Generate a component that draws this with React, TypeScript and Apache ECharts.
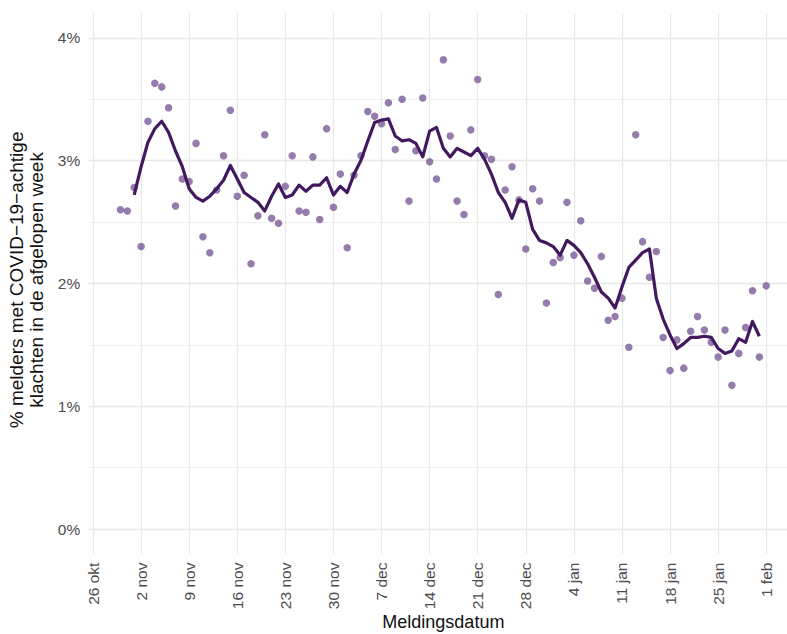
import React, { useEffect, useRef } from "react";
import * as echarts from "echarts";

// x positions are days since 26 okt 2020
const tickDays = [0, 7, 14, 21, 28, 35, 42, 49, 56, 63, 70, 77, 84, 91, 98];
const tickLabels = [
  "26 okt", "2 nov", "9 nov", "16 nov", "23 nov", "30 nov", "7 dec",
  "14 dec", "21 dec", "28 dec", "4 jan", "11 jan", "18 jan", "25 jan", "1 feb",
];
const yTicks = [0, 1, 2, 3, 4];

// daily values (%), first point on 30 okt (day 4)
const firstPointDay = 4;
const dailyValues = [
  2.60, 2.59, 2.78, 2.30, 3.32, 3.63, 3.60, 3.43, 2.63, 2.85, // 30 okt - 8 nov
  2.83, 3.14, 2.38, 2.25, 2.76, 3.04, 3.41, 2.71, 2.88, 2.16, // 9 nov - 18 nov
  2.55, 3.21, 2.53, 2.49, 2.79, 3.04, 2.59, 2.58, 3.03, 2.52, // 19 nov - 28 nov
  3.26, 2.62, 2.89, 2.29, 2.88, 3.04, 3.40, 3.36, 3.30, 3.47, // 29 nov - 8 dec
  3.09, 3.50, 2.67, 3.08, 3.51, 2.99, 2.85, 3.82, 3.20, 2.67, // 9 dec - 18 dec
  2.56, 3.25, 3.66, 3.04, 3.01, 1.91, 2.76, 2.95, 2.68, 2.28, // 19 dec - 28 dec
  2.77, 2.67, 1.84, 2.17, 2.21, 2.66, 2.23, 2.51, 2.02, 1.96, // 29 dec - 7 jan
  2.22, 1.70, 1.73, 1.88, 1.48, 3.21, 2.34, 2.05, 2.26, 1.56, // 8 jan - 17 jan
  1.29, 1.54, 1.31, 1.61, 1.73, 1.62, 1.52, 1.40, 1.62, 1.17, // 18 jan - 27 jan
  1.43, 1.64, 1.94, 1.40, 1.98,                               // 28 jan - 1 feb
];

// 7-day average (%), first value on 1 nov (day 6)
const firstAvgDay = 6;
const weeklyAverage = [
  2.72, 2.95, 3.15, 3.26, 3.32, 3.23, 3.08, 2.95, 2.77, 2.70, // 1 nov - 10 nov
  2.67, 2.71, 2.77, 2.84, 2.96, 2.85, 2.74, 2.70, 2.66, 2.59, // 11 nov - 20 nov
  2.71, 2.81, 2.70, 2.72, 2.80, 2.75, 2.80, 2.80, 2.86, 2.72, // 21 nov - 30 nov
  2.79, 2.74, 2.89, 3.00, 3.16, 3.31, 3.33, 3.34, 3.20, 3.16, // 1 dec - 10 dec
  3.17, 3.14, 3.03, 3.24, 3.27, 3.10, 3.03, 3.10, 3.07, 3.04, // 11 dec - 20 dec
  3.10, 3.01, 2.89, 2.74, 2.66, 2.53, 2.68, 2.66, 2.44, 2.35, // 21 dec - 30 dec
  2.33, 2.30, 2.23, 2.35, 2.31, 2.25, 2.16, 2.05, 1.93, 1.88, // 31 dec - 9 jan
  1.80, 1.97, 2.13, 2.19, 2.25, 2.28, 1.88, 1.71, 1.58, 1.47, // 10 jan - 19 jan
  1.51, 1.56, 1.56, 1.57, 1.56, 1.47, 1.43, 1.45, 1.55, 1.52, // 20 jan - 29 jan
  1.69, 1.57,                                                 // 30 jan - 31 jan
];

const FONT = "'Liberation Sans', Arial, Helvetica, sans-serif";

export default function App() {
  const ref = useRef<HTMLDivElement>(null);

  useEffect(() => {
    document.body.style.margin = "0";
    if (!ref.current) return;
    const chart = echarts.init(ref.current, null, { renderer: "svg" });

    const points = dailyValues.map((v, i) => [firstPointDay + i, v]);
    const avg = weeklyAverage.map((v, i) => [firstAvgDay + i, v]);

    chart.setOption({
      animation: false,
      backgroundColor: "#ffffff",
      grid: {
        left: 88.2,
        top: 13.2,
        width: 710.3,
        height: 540.4,
        containLabel: false,
        outerBoundsMode: "none",
      },
      xAxis: {
        type: "value",
        min: -0.7,
        max: 102.7,
        name: "Meldingsdatum",
        nameLocation: "middle",
        nameGap: 59,
        nameMoveOverlap: false,
        nameTextStyle: { fontFamily: FONT, fontSize: 18, color: "#111111" },
        axisLine: { show: false },
        axisTick: { show: false, customValues: tickDays },
        axisLabel: {
          customValues: tickDays,
          rotate: 90,
          margin: 9,
          fontFamily: FONT,
          fontSize: 15.5,
          color: "#4d4d4d",
          formatter: (v: number) => {
            const i = tickDays.indexOf(Math.round(v));
            return i >= 0 ? tickLabels[i] : "";
          },
        },
        splitLine: { show: true, lineStyle: { color: "#e8e8e8", width: 1.3 } },
      },
      yAxis: {
        type: "value",
        min: -0.2,
        max: 4.2,
        name: "% melders met COVID\u221219\u2212achtige\nklachten in de afgelopen week",
        nameLocation: "middle",
        nameRotate: 90,
        nameGap: 42,
        nameMoveOverlap: false,
        nameTextStyle: {
          fontFamily: FONT,
          fontSize: 19,
          color: "#111111",
          lineHeight: 20,
          padding: [0, 0, 0, 7],
        },
        axisLine: { show: false },
        axisTick: { show: false, customValues: yTicks },
        minorTick: { show: false, splitNumber: 2 },
        axisLabel: {
          customValues: yTicks,
          margin: 8,
          fontFamily: FONT,
          fontSize: 15.5,
          color: "#4d4d4d",
          formatter: (v: number) => `${v}%`,
        },
        splitLine: { show: true, lineStyle: { color: "#e8e8e8", width: 1.3 } },
        minorSplitLine: { show: true, lineStyle: { color: "#efefef", width: 1 } },
      },
      series: [
        {
          type: "scatter",
          data: points,
          symbol: "circle",
          symbolSize: 7.5,
          itemStyle: { color: "#7b5b99" },
          z: 2,
          silent: true,
        },
        {
          type: "line",
          data: avg,
          showSymbol: false,
          symbol: "none",
          lineStyle: { color: "#42195e", width: 3.2, join: "round" },
          z: 3,
          silent: true,
        },
      ],
    });

    return () => chart.dispose();
  }, []);

  return <div ref={ref} style={{ width: 787, height: 634 }} />;
}
